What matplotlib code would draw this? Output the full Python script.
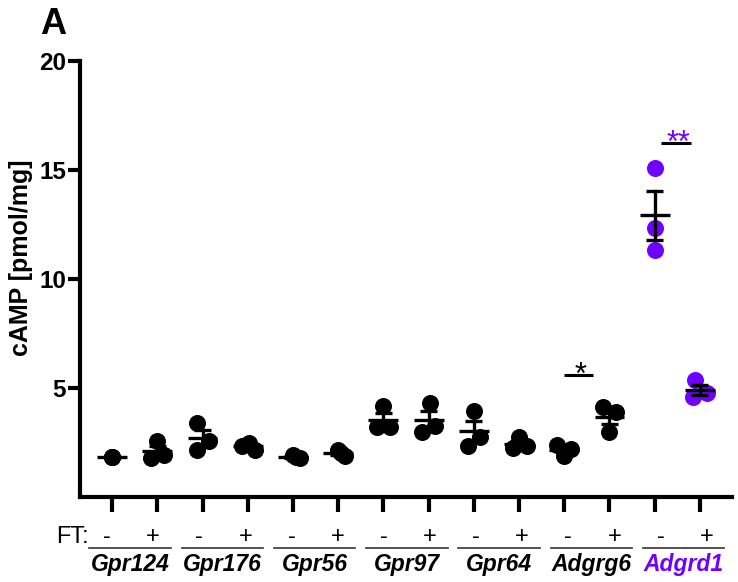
import matplotlib
matplotlib.use("Agg")
import matplotlib.pyplot as plt
import numpy as np
from matplotlib.transforms import blended_transform_factory

# ---- data ----
genes = ["Gpr124", "Gpr176", "Gpr56", "Gpr97", "Gpr64", "Adgrg6", "Adgrd1"]
ft_labels = ["-", "+"]
values = [
    [1.85, 1.85, 1.85],   # Gpr124 -
    [2.57, 1.77, 1.93],   # Gpr124 +
    [3.38, 2.57, 2.16],   # Gpr176 -
    [2.34, 2.16, 2.46],   # Gpr176 +
    [1.93, 1.77, 1.85],   # Gpr56 -
    [2.16, 1.88, 2.0],    # Gpr56 +
    [4.17, 3.20, 3.20],   # Gpr97 -
    [4.33, 3.00, 3.26],   # Gpr97 +
    [3.96, 2.34, 2.74],   # Gpr64 -
    [2.74, 2.23, 2.34],   # Gpr64 +
    [2.39, 2.19, 1.90],   # Adgrg6 -
    [4.14, 3.91, 3.00],   # Adgrg6 +
    [15.08, 12.33, 11.33],  # Adgrd1 -
    [5.37, 4.60, 4.76],   # Adgrd1 +
]
sig_labels = ["*", "**"]
sig_conditions = [10, 12]

# ---- layout / style (not data) ----
x_jitter = [
    [0, 0, 0], [0, -0.15, 0.15], [-0.12, 0.15, -0.12], [-0.12, 0.15, 0.03],
    [0, 0.15, 0.07], [0, 0.15, 0.07], [0, -0.14, 0.15], [0.03, -0.14, 0.15],
    [0, -0.13, 0.13], [0, -0.14, 0.17], [-0.15, 0.15, 0], [-0.15, 0.15, 0],
    [0, 0, 0], [-0.11, -0.15, 0.15],
]
purple = "#7000FF"
colors = ["black"] * 12 + [purple] * 2
gene_colors = ["black"] * 6 + [purple]
W, H = 738, 582
FONT = "Liberation Sans"

fig = plt.figure(figsize=(W / 100, H / 100), dpi=100)
ax = fig.add_axes([80 / W, 1 - 497 / H, (732 - 80) / W, (497 - 61) / H])

n = len(values)
xpos = np.arange(n)
for i in range(n):
    v = np.array(values[i])
    xs = xpos[i] + np.array(x_jitter[i])
    ax.scatter(xs, v, s=150, color=colors[i], zorder=3, linewidths=0)
for i in range(n):
    v = np.array(values[i])
    m = v.mean()
    sem = v.std(ddof=1) / np.sqrt(len(v))
    ax.plot([xpos[i] - 0.33, xpos[i] + 0.33], [m, m], color="black", lw=2.4, zorder=4,
            solid_capstyle="butt")
    ax.plot([xpos[i], xpos[i]], [m - sem, m + sem], color="black", lw=2.4, zorder=4)
    for yy in (m - sem, m + sem):
        ax.plot([xpos[i] - 0.19, xpos[i] + 0.19], [yy, yy], color="black", lw=2.4,
                zorder=4, solid_capstyle="butt")

ax.set_xlim(-0.71, 13.71)
ax.set_ylim(0, 20)
ax.set_yticks([5, 10, 15, 20])
ax.set_xticks(xpos)
ax.set_xticklabels([])
for s in ["top", "right"]:
    ax.spines[s].set_visible(False)
for s in ["left", "bottom"]:
    ax.spines[s].set_linewidth(3)
ax.tick_params(axis="y", length=9, width=3, labelsize=17.5, pad=1)
ax.tick_params(axis="x", length=11, width=3)
for lab in ax.get_yticklabels():
    lab.set_fontfamily(FONT)
    lab.set_fontweight("bold")

ax.set_ylabel("cAMP [pmol/mg]", fontsize=18, fontweight="bold", fontfamily=FONT)
ax.yaxis.set_label_coords(-47 / (732 - 80), (497 - 258) / (497 - 61))

fig.text(40 / W, 1 - 25 / H, "A", fontsize=26, fontweight="bold",
         fontfamily=FONT, va="center", ha="left")

tr = blended_transform_factory(ax.transData, fig.transFigure)
def lab_x(u):
    return -0.11 + 1.02 * u

ax.text(lab_x(-0.40), 1 - 537 / H, "FT:", transform=tr, ha="right", va="center",
        fontsize=17, fontfamily=FONT, clip_on=False)
for i in range(n):
    ax.text(lab_x(xpos[i]), 1 - 537 / H, ft_labels[i % 2], transform=tr, ha="center",
            va="center", fontsize=17, fontfamily=FONT, clip_on=False)
for g, name in enumerate(genes):
    c = lab_x(2 * g + 0.5)
    ax.plot([c - 0.9, c + 0.9], [1 - 548 / H] * 2, transform=tr, color="#333333",
            lw=1.2, clip_on=False)
    ax.text(c, 1 - 564 / H, name, transform=tr, ha="center", va="center",
            fontsize=16.5, fontweight="bold", fontstyle="italic",
            fontfamily=FONT, color=gene_colors[g], clip_on=False)

# significance marks
bar_y = [5.6, 16.25]
bar_x = [(0.0, 0.64), (0.15, 0.81)]
text_y = [5.2, 15.85]
text_col = ["black", purple]
for k, idx in enumerate(sig_conditions):
    x0, x1 = xpos[idx] + bar_x[k][0], xpos[idx] + bar_x[k][1]
    ax.plot([x0, x1], [bar_y[k]] * 2, color="black", lw=2.2, clip_on=False,
            solid_capstyle="butt")
    ax.text((x0 + x1) / 2 + 0.05, text_y[k], sig_labels[k], ha="center",
            va="baseline", fontsize=22, color=text_col[k], fontfamily=FONT)

fig.savefig("out.png", dpi=100)
